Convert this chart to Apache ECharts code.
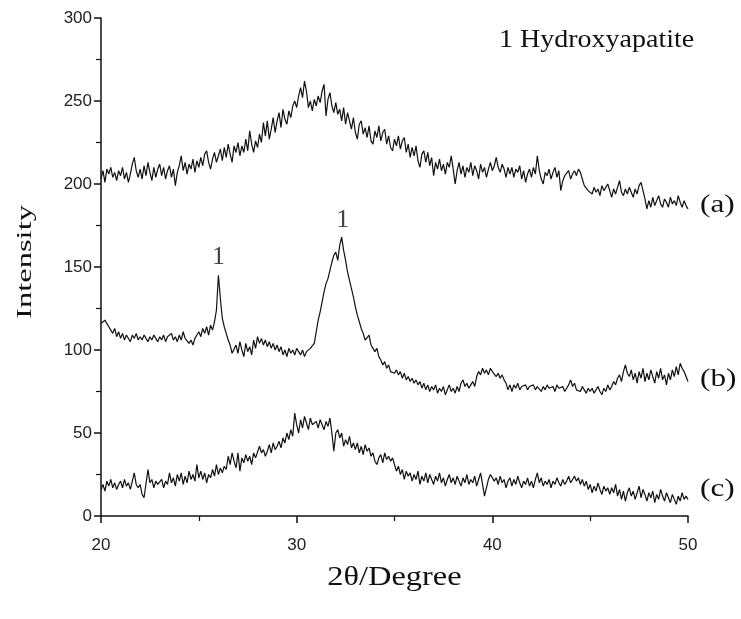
<!DOCTYPE html>
<html>
<head>
<meta charset="utf-8">
<script src="https://cdn.jsdelivr.net/npm/echarts@6/dist/echarts.min.js"></script>
<style>html,body{margin:0;padding:0;background:#fff}#c{width:741px;height:619px}</style>
</head>
<body>
<div id="c"></div>
<script>
// 2θ sampling grid: 20.0 to 50.0 in 0.1° steps (301 points)
const angleStart = 20.0;
const angleStep = 0.1;

const seriesA = [
203,208,201,209,206,210,204,207,202,208,
205,210,203,207,201,206,212,216,208,204,
209,203,211,205,213,207,202,210,204,209,
212,205,210,203,208,211,204,209,199,207,
211,217,208,213,206,212,209,215,207,214,
210,216,211,218,220,213,209,215,219,213,
217,221,214,222,216,224,218,213,223,219,
225,217,223,219,227,220,232,224,219,226,
222,230,225,237,229,238,227,233,240,231,
238,243,234,245,239,236,244,240,247,250,
246,253,258,252,262,256,246,250,244,251,
247,253,249,256,260,241,251,255,247,243,
249,242,245,238,246,236,243,238,233,240,
231,227,236,238,230,234,228,235,226,224,
232,228,235,226,231,233,224,229,222,220,
227,223,229,221,226,228,219,224,216,222,
217,223,214,210,218,220,213,219,211,216,
205,213,209,215,208,212,206,213,210,217,
209,200,208,213,206,211,204,210,207,213,
205,211,208,203,212,207,210,204,209,213,
208,211,216,210,207,212,209,204,210,206,
210,204,209,207,211,203,208,201,206,209,
204,210,206,217,208,203,200,207,205,209,
203,207,210,204,208,196,202,205,204,208,
203,206,208,205,209,207,203,199,200,196,
197,194,198,195,197,193,199,196,195,200,
196,192,197,194,198,202,195,193,197,194,
198,195,192,197,194,199,201,196,191,185,
190,186,192,187,190,193,188,186,191,189,
186,192,188,190,187,193,189,186,190,187,
185];

const seriesB = [
116,115,118,117,114,112,110,113,108,111,
107,110,106,109,108,105,109,107,110,106,
108,106,109,107,105,108,106,109,107,105,
108,106,109,105,108,107,110,106,108,105,
109,106,111,107,108,104,106,103,107,109,
111,108,113,110,114,109,115,112,117,124,
145,131,119,114,110,106,103,98,97,103,
98,105,100,96,104,99,102,97,106,101,
108,104,107,103,106,102,105,101,104,100,
103,99,102,97,100,96,101,98,100,97,
101,99,97,100,96,99,98,101,100,104,
111,118,123,129,135,140,143,148,153,157,
159,154,163,168,160,154,147,142,137,132,
126,121,117,113,110,106,105,109,103,101,
99,101,96,94,91,93,89,91,87,88,
86,88,85,87,83,86,82,84,81,83,
80,82,79,81,77,80,76,79,75,78,
76,79,74,77,75,78,73,76,79,75,
77,74,78,75,80,82,78,80,77,79,
81,78,84,87,85,89,86,88,85,89,
87,88,84,86,83,85,82,80,76,79,
75,79,77,80,76,78,77,79,76,78,
77,79,76,78,77,75,78,76,79,77,
76,78,75,79,77,76,78,75,77,79,
82,78,80,76,77,75,78,76,74,77,
75,77,74,76,78,75,73,77,75,79,
76,78,81,79,83,85,81,87,91,86,
84,88,82,86,80,87,83,89,81,86,
82,88,84,80,87,83,89,82,85,79,
86,82,88,84,90,85,92,89,87,84,
81];

const seriesC = [
16,19,15,21,18,22,17,20,16,19,
21,17,22,18,20,16,21,26,19,17,
19,13,11,12,28,20,22,17,21,19,
18,22,17,21,19,26,20,23,18,25,
21,26,19,24,20,27,22,25,21,31,
23,27,22,26,20,25,23,28,24,31,
25,29,26,30,28,36,31,38,33,29,
38,27,35,32,37,33,36,31,38,35,
34,42,38,40,36,39,43,38,44,40,
42,45,41,47,44,50,46,52,48,62,
55,50,58,53,60,56,52,59,55,54,
57,53,58,55,52,57,54,59,50,39,
50,52,47,50,42,46,43,48,41,44,
40,44,38,42,37,43,39,41,36,38,
33,31,35,37,32,38,34,36,33,35,
31,27,30,25,28,22,27,24,26,21,
25,22,27,19,24,21,26,20,25,22,
19,24,21,26,20,23,18,22,25,20,
23,19,24,21,18,23,20,25,19,22,
20,24,18,22,26,19,12,11,22,25,
26,21,23,19,24,20,22,17,21,23,
18,22,19,24,20,17,21,19,23,18,
21,17,22,26,20,23,18,21,19,22,
17,21,19,23,20,18,22,19,21,24,
20,22,24,21,23,19,22,18,21,16,
19,14,18,15,20,16,13,18,15,17,
13,17,14,19,12,16,10,15,9,14,
17,12,15,10,14,18,11,16,13,9,
14,11,15,8,13,10,16,12,9,14,
11,8,13,10,7,12,9,14,10,12,
10];

const curveLabels = ['(a)', '(b)', '(c)'];
const curveLabelValues = [187, 82, 16];
const peakLabelAngles = [26.0, 32.35];
const peakLabelValues = [156, 178];
const peakLabelText = '1';
const legendNote = '1 Hydroxyapatite';
const xAxisName = '2θ/Degree';
const yAxisName = 'Intensity';
const xTicks = [20, 30, 40, 50];
const yTicks = [0, 50, 100, 150, 200, 250, 300];

function pairs(vals) {
  return vals.map((v, i) => [+(angleStart + i * angleStep).toFixed(2), v]);
}

const chart = echarts.init(document.getElementById('c'), null, {renderer: 'canvas'});
const serif = '"Liberation Serif", "Times New Roman", serif';
const sans = '"Liberation Sans", Arial, sans-serif';

const lineSeries = [seriesA, seriesB, seriesC].map((vals) => ({
  type: 'line',
  data: pairs(vals),
  showSymbol: false,
  symbol: 'none',
  lineStyle: {color: '#111', width: 1.2},
  animation: false
}));

lineSeries.push({
  type: 'scatter',
  data: peakLabelAngles.map((a, i) => [a, peakLabelValues[i]]),
  symbolSize: 0,
  itemStyle: {color: 'transparent'},
  label: {show: true, formatter: peakLabelText, position: 'inside', color: '#111',
          fontFamily: serif, fontSize: 26},
  animation: false,
  silent: true
});

chart.setOption({
  backgroundColor: '#fff',
  animation: false,
  grid: {left: 101, right: 53, top: 18, bottom: 103},
  xAxis: {
    type: 'value', min: 20, max: 50, interval: 10,
    axisLine: {show: true, onZero: false, lineStyle: {color: '#111', width: 1.5}},
    axisTick: {show: true, inside: false, length: 7, lineStyle: {color: '#111', width: 1.5}},
    minorTick: {show: true, splitNumber: 2, length: 5, lineStyle: {color: '#111', width: 1.2}},
    axisLabel: {fontFamily: sans, fontSize: 17, color: '#222', margin: 21,
                formatter: v => xTicks.includes(v) ? String(v) : ''},
    splitLine: {show: false}
  },
  yAxis: {
    type: 'value', min: 0, max: 300, interval: 50,
    axisLine: {show: true, lineStyle: {color: '#111', width: 1.5}},
    axisTick: {show: true, inside: false, length: 7, lineStyle: {color: '#111', width: 1.5}},
    minorTick: {show: true, splitNumber: 2, length: 5, lineStyle: {color: '#111', width: 1.2}},
    axisLabel: {fontFamily: sans, fontSize: 17, color: '#222', margin: 9,
                formatter: v => yTicks.includes(v) ? String(v) : ''},
    splitLine: {show: false}
  },
  series: lineSeries
});

// Text annotations placed through the chart's own scales
const graphics = [];
curveLabels.forEach((t, i) => {
  const p = chart.convertToPixel({gridIndex: 0}, [50, curveLabelValues[i]]);
  graphics.push({
    type: 'text', x: p[0] + 12, y: p[1], scaleX: 1.25, scaleY: 1,
    style: {text: t, font: '25px ' + serif, fill: '#111',
            align: 'left', verticalAlign: 'middle', textAlign: 'left', textVerticalAlign: 'middle'}
  });
});
const pTop = chart.convertToPixel({gridIndex: 0}, [35, 300]);
const pMid = chart.convertToPixel({gridIndex: 0}, [35, 150]);
const pBot = chart.convertToPixel({gridIndex: 0}, [20, 0]);
graphics.push({
  type: 'text', x: 499, y: pTop[1] + 22, scaleX: 1.12,
  style: {text: legendNote, font: '25px ' + serif, fill: '#111',
          align: 'left', verticalAlign: 'middle', textAlign: 'left', textVerticalAlign: 'middle'}
});
graphics.push({
  type: 'text', x: pMid[0], y: pBot[1] + 62, scaleX: 1.2,
  style: {text: xAxisName, font: '27px ' + serif, fill: '#111',
          align: 'center', verticalAlign: 'middle', textAlign: 'center', textVerticalAlign: 'middle'}
});
graphics.push({
  type: 'text', x: 25, y: pMid[1] - 5, rotation: Math.PI / 2, scaleX: 1.55,
  style: {text: yAxisName, font: '21px ' + serif, fill: '#111',
          align: 'center', verticalAlign: 'middle', textAlign: 'center', textVerticalAlign: 'middle'}
});
chart.setOption({graphic: graphics});
</script>
</body>
</html>
